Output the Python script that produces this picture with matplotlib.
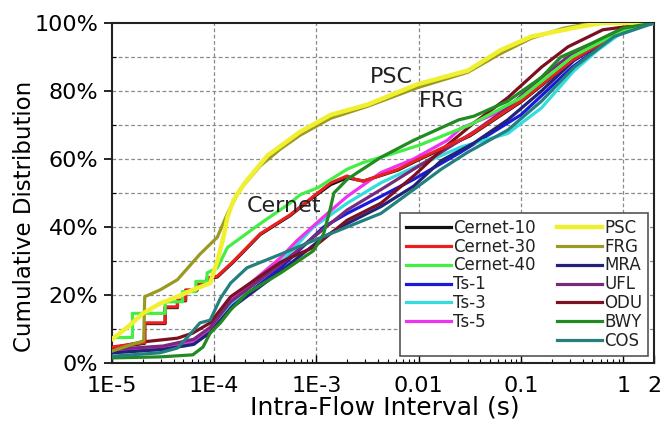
import numpy as np
import matplotlib
matplotlib.use("Agg")
import matplotlib.pyplot as plt
from matplotlib.lines import Line2D
from matplotlib.ticker import FixedLocator, NullFormatter

plt.rcParams['font.family'] = ['DejaVu Sans']

# ---- data: log10(interval in s) and cumulative percentage ----
cernet10_lx = [-5.0, -4.68, -4.68, -4.48, -4.48, -4.36, -4.36, -4.28, -4.28, -4.17, -4.17, -4.07, -4.07, -3.97, -3.81, -3.55, -3.26, -3.03, -2.86, -2.70, -2.54, -2.2, -2.0, -1.5, -1.0, -0.5, 0.0, 0.301]
cernet10_y = [4.5, 5.8, 11.6, 11.6, 16.3, 16.3, 18.3, 18.3, 21.3, 21.3, 23.3, 23.3, 24.8, 25.3, 29.8, 37.8, 43.3, 48.8, 52.5, 54.5, 53.5, 56.8, 59.8, 66.8, 76.8, 88.8, 97.8, 100]

cernet30_lx = [-5.0, -4.68, -4.68, -4.48, -4.48, -4.36, -4.36, -4.28, -4.28, -4.17, -4.17, -4.07, -4.07, -3.97, -3.81, -3.55, -3.26, -3.03, -2.86, -2.70, -2.62, -2.54, -2.2, -2.0, -1.5, -1.0, -0.5, 0.0, 0.301]
cernet30_y = [4.7, 6.0, 11.8, 11.8, 16.5, 16.5, 18.5, 18.5, 21.5, 21.5, 23.5, 23.5, 25.0, 25.5, 30, 38, 43.5, 49, 53, 55, 54, 53.5, 57, 60, 67, 77, 89, 98, 100]

cernet40_lx = [-5.0, -4.80, -4.80, -4.48, -4.48, -4.31, -4.31, -4.18, -4.18, -4.07, -4.07, -3.97, -3.87, -3.55, -3.26, -3.16, -2.99, -2.86, -2.70, -2.54, -2.37, -2.0, -1.5, -1.0, -0.5, 0.0, 0.301]
cernet40_y = [7.5, 7.5, 14.6, 14.6, 18, 18, 21, 21, 24, 24, 26.5, 28, 34, 41, 47, 49.5, 51.5, 54, 57, 59, 60.5, 64, 70, 78, 90, 98, 100]

ts1_lx = [-5.0, -4.5, -4.2, -4.04, -3.84, -3.35, -2.93, -2.70, -2.37, -2.05, -1.59, -1.0, -0.5, 0.0, 0.301]
ts1_y = [3.5, 4.5, 6, 9, 16.5, 28, 40, 44, 49, 54, 62, 73, 87, 98, 100]

ts3_lx = [-5.0, -4.5, -4.2, -4.04, -3.84, -3.35, -3.03, -2.70, -2.37, -2.05, -1.59, -1.13, -0.8, -0.48, -0.25, 0.0, 0.301]
ts3_y = [3, 4, 5.5, 9.5, 17.5, 29.5, 40, 47, 53, 57.5, 63.5, 67.5, 75, 86, 92, 97.5, 100]

ts5_lx = [-5.0, -4.5, -4.2, -4.04, -3.84, -3.35, -3.19, -2.93, -2.70, -2.37, -2.05, -1.72, -1.59, -1.2, -0.8, -0.5, 0.0, 0.301]
ts5_y = [3.5, 4.5, 6.5, 10, 18.5, 31, 36, 43, 49, 56, 60, 65.5, 69, 74, 82, 89, 98, 100]

psc_lx = [-5.0, -4.85, -4.70, -4.53, -4.36, -4.21, -4.04, -3.97, -3.91, -3.87, -3.81, -3.70, -3.48, -3.16, -2.86, -2.5, -2.01, -1.52, -1.2, -0.9, -0.41, -0.2, 0.301]
psc_y = [7, 10.5, 14.5, 17.5, 19.5, 21.5, 23.5, 30, 37, 43, 48, 53, 61, 68, 73, 76, 82, 86, 92, 96, 99, 100, 100]

frg_lx = [-5.0, -4.85, -4.69, -4.68, -4.53, -4.36, -4.14, -3.97, -3.87, -3.75, -3.55, -3.35, -3.16, -2.86, -2.5, -2.01, -1.52, -1.2, -0.9, -0.58, -0.3, 0.301]
frg_y = [3.5, 5, 6.5, 19.5, 21.5, 24.5, 32, 37, 44, 51, 58, 63, 67, 72, 75.5, 81, 85.5, 91, 95.5, 98.5, 100, 100]

mra_lx = [-5.0, -4.5, -4.2, -4.04, -3.84, -3.35, -2.93, -2.70, -2.37, -2.05, -1.78, -1.46, -1.13, -0.80, -0.48, 0.0, 0.301]
mra_y = [3, 4, 5.5, 9, 16, 27, 37, 41, 46, 52, 59.5, 64.7, 71.5, 80, 89, 98, 100]

ufl_lx = [-5.0, -4.5, -4.2, -4.04, -3.84, -3.35, -3.03, -2.70, -2.37, -2.05, -1.78, -1.46, -1.13, -0.8, -0.5, 0.0, 0.301]
ufl_y = [4, 5, 7, 10.5, 18, 29, 37, 45, 51, 57, 62, 68, 75, 84, 91, 98.5, 100]

odu_lx = [-5.0, -4.70, -4.36, -4.21, -4.04, -3.84, -3.35, -3.03, -2.70, -2.37, -2.05, -1.78, -1.46, -1.13, -0.80, -0.54, -0.2, 0.301]
odu_y = [4.4, 6.2, 7.3, 8.8, 11.8, 19.5, 29.7, 34, 42, 47, 55, 62.6, 70.6, 78, 87, 93, 98, 100]

bwy_lx = [-5.0, -4.53, -4.21, -4.11, -4.04, -3.94, -3.84, -3.68, -3.35, -3.03, -2.93, -2.86, -2.83, -2.70, -2.6, -2.37, -2.05, -1.61, -1.46, -1.13, -0.80, -0.61, -0.31, 0.0, 0.301]
bwy_y = [1.5, 1.8, 2.4, 4.7, 8.8, 11.8, 15.6, 20.5, 26.5, 33, 38, 46, 50, 54, 56, 60.5, 65.5, 71.5, 72.6, 77, 84, 90, 94, 98.5, 100]

cos_lx = [-5.0, -4.53, -4.36, -4.27, -4.14, -4.04, -3.94, -3.84, -3.68, -3.35, -3.03, -2.70, -2.37, -2.05, -1.78, -1.52, -1.13, -0.80, -0.48, -0.09, 0.301]
cos_y = [2, 3, 4.4, 7.3, 11.8, 12.6, 19, 23.5, 28, 32, 36, 40, 44, 51, 57, 62, 68.5, 77, 87, 96, 100]

series_names = ["Cernet-10", "Cernet-30", "Cernet-40", "Ts-1", "Ts-3", "Ts-5",
                "PSC", "FRG", "MRA", "UFL", "ODU", "BWY", "COS"]
series_lx = [cernet10_lx, cernet30_lx, cernet40_lx, ts1_lx, ts3_lx, ts5_lx,
             psc_lx, frg_lx, mra_lx, ufl_lx, odu_lx, bwy_lx, cos_lx]
series_y = [cernet10_y, cernet30_y, cernet40_y, ts1_y, ts3_y, ts5_y,
            psc_y, frg_y, mra_y, ufl_y, odu_y, bwy_y, cos_y]
colors = ["#111111", "#e82020", "#44ee44", "#1a1adc", "#33dddd", "#ee33ee",
          "#f0f030", "#9a9a20", "#22227a", "#7a2a7a", "#7a1020", "#228a22", "#23807f"]

xtick_vals = [1e-5, 1e-4, 1e-3, 1e-2, 1e-1, 1, 2]
xtick_labels = ["1E-5", "1E-4", "1E-3", "0.01", "0.1", "1", "2"]
ytick_vals = [0, 20, 40, 60, 80, 100]
ytick_labels = ["0%", "20%", "40%", "60%", "80%", "100%"]

W, H = 662, 428
AX_L, AX_R, AX_T, AX_B = 112, 654, 23, 363
fig = plt.figure(figsize=(W / 100, H / 100), dpi=100)
ax = fig.add_axes([AX_L / W, 1 - AX_B / H, (AX_R - AX_L) / W, (AX_B - AX_T) / H])

def fx(px):
    return (px - AX_L) / (AX_R - AX_L)

def fy(py):
    return (AX_B - py) / (AX_B - AX_T)

# draw order (later = on top)
order = [0, 3, 4, 5, 8, 9, 10, 1, 2, 7, 6, 11, 12]
handles = {}
for i in order:
    lw = 3.2 if series_names[i] == "PSC" else 2.3
    ln, = ax.plot(10 ** np.array(series_lx[i]), series_y[i], color=colors[i], lw=lw,
                  solid_joinstyle='round', zorder=3)
    handles[i] = ln

ax.set_xscale('log')
ax.set_xlim(1e-5, 2)
ax.set_ylim(0, 100)

ax.xaxis.set_major_locator(FixedLocator(xtick_vals))
ax.set_xticklabels(xtick_labels)
minor = [m * 10.0 ** e for e in range(-5, 1) for m in range(2, 10) if m * 10.0 ** e < 2]
ax.xaxis.set_minor_locator(FixedLocator(minor))
ax.xaxis.set_minor_formatter(NullFormatter())
ax.set_yticks(ytick_vals)
ax.set_yticklabels(ytick_labels)
ax.set_yticks(range(10, 100, 20), minor=True)

ax.tick_params(axis='x', which='major', direction='in', length=6, width=1, labelsize=16, pad=9)
ax.tick_params(axis='x', which='minor', direction='in', length=3, width=0.8)
ax.tick_params(axis='y', which='major', direction='out', length=6, width=1.2, labelsize=16, pad=4)
ax.tick_params(axis='y', which='minor', direction='in', length=3, width=0.8)

for v in [1e-4, 1e-3, 1e-2, 1e-1, 1]:
    ax.axvline(v, color='#8a8a8a', lw=0.9, ls=(0, (3, 2)), zorder=1)
for v in range(10, 100, 10):
    ax.axhline(v, color='#8a8a8a', lw=0.9, ls=(0, (3, 2)), zorder=1)

for s in ax.spines.values():
    s.set_linewidth(1.5)
    s.set_color('#222222')

ax.set_xlabel("Intra-Flow Interval (s)", fontsize=18)
ax.xaxis.set_label_coords(fx(385), fy(408), transform=ax.transAxes)
ax.xaxis.label.set_va('center')
ax.set_ylabel("Cumulative Distribution", fontsize=16.5)
ax.yaxis.set_label_coords(fx(25), fy(216), transform=ax.transAxes)
ax.yaxis.label.set_va('center')

ax.text(fx(391), fy(77), "PSC", fontsize=16, ha='center', va='center',
        color='#222222', zorder=5, transform=ax.transAxes)
ax.text(fx(442), fy(101), "FRG", fontsize=16, ha='center', va='center',
        color='#222222', zorder=5, transform=ax.transAxes)
ax.text(fx(284), fy(206), "Cernet", fontsize=16, ha='center', va='center',
        color='#222222', zorder=5, transform=ax.transAxes)

blank = Line2D([], [], color='none')
leg_handles = [handles[i] for i in range(6)] + [blank] + [handles[i] for i in range(6, 13)]
leg_labels = series_names[:6] + [""] + series_names[6:]
leg = ax.legend(leg_handles, leg_labels, ncol=2, loc='upper left',
                bbox_to_anchor=(fx(400), fy(355), fx(648) - fx(400), fy(213) - fy(355)),
                mode='expand',
                fontsize=12, frameon=True, fancybox=False, framealpha=1,
                edgecolor='#555555', labelspacing=0.05, handlelength=2.7,
                handletextpad=0.15, columnspacing=0.2, borderpad=0.35,
                borderaxespad=0)
leg.get_frame().set_linewidth(1.2)
for t in leg.get_texts():
    t.set_color('#222222')
leg.set_zorder(6)

fig.savefig("out.png", dpi=100)
